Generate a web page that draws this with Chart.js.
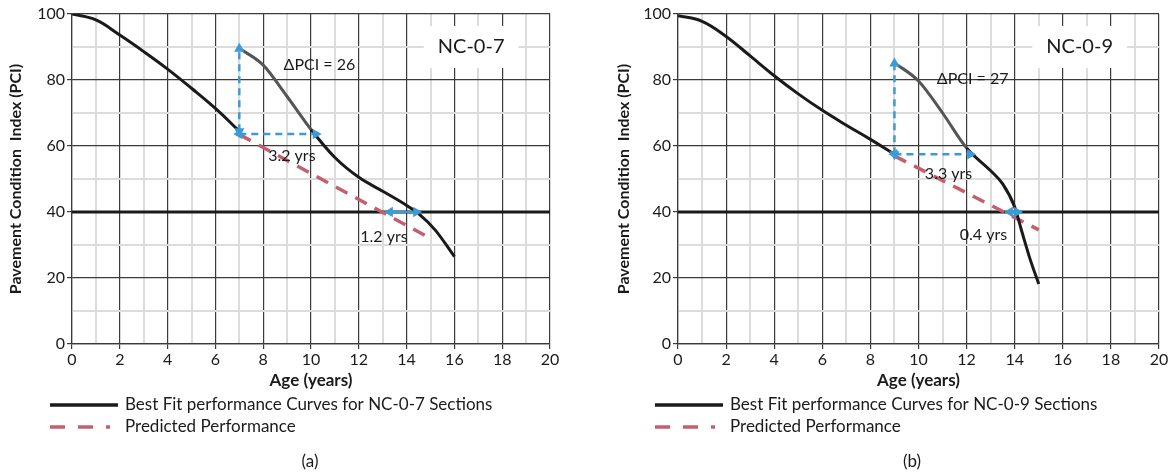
<!DOCTYPE html>
<html lang="en">
<head>
  <meta charset="UTF-8" />
  <title>PCI Performance Curves</title>
  <script src="https://cdn.jsdelivr.net/npm/chart.js"></script>
  <style>
    body { margin: 0; background: #fff; }
    .wrap { position: relative; width: 1173px; height: 475px; }
    .panel { position: absolute; top: 0; height: 475px; }
    #panelA { left: 0; width: 586px; }
    #panelB { left: 586px; width: 587px; }
  </style>
</head>
<body>
  <div class="wrap">
    <div class="panel" id="panelA"><canvas id="chartA"></canvas></div>
    <div class="panel" id="panelB"><canvas id="chartB"></canvas></div>
  </div>

  <script>
    // ---- panel (a) NC-0-7 ----
    const fit7Age = [0, 1, 2, 3, 4, 5, 6, 7];
    const fit7Pci = [100, 98.2, 93.6, 88.6, 83.3, 77.5, 71.4, 64.5];
    const rehab7Age = [7, 8, 9, 10, 11, 12, 13, 14, 14.5, 15.2, 16];
    const rehab7Pci = [89.6, 84.5, 75, 65, 56.5, 50.5, 46.3, 42, 39.5, 34.5, 26.5];
    const pred7Age = [7, 15];
    const pred7Pci = [63.5, 32];
    const jump7 = [[7, 64.5], [7, 89.5]];      // delta PCI arrow
    const gain7 = [[7, 63.6], [10.2, 63.6]];   // years gained arrow
    const end7 = [[13.3, 40], [14.4, 40]];     // extension at PCI 40

    // ---- panel (b) NC-0-9 ----
    const fit9Age = [0, 1, 2, 3, 4, 5, 6, 7, 8, 9];
    const fit9Pci = [99.5, 97.8, 93.2, 87.3, 81.3, 75.8, 70.8, 66.3, 62, 57.5];
    const rehab9Age = [9, 10, 11, 12, 13, 13.5, 14, 14.3, 14.65, 15];
    const rehab9Pci = [85.2, 79.7, 70, 59.4, 52.5, 48.5, 41.5, 34, 25.5, 18.2];
    const pred9Age = [9, 15];
    const pred9Pci = [57, 34.6];
    const jump9 = [[9, 57.5], [9, 85]];
    const gain9 = [[9, 57.5], [12.15, 57.5]];
    const end9 = [[13.8, 40], [14.1, 40]];

    const threshold = 40;
    const ageRange = [0, 20];

    const FONT = 'Lato, "Open Sans", sans-serif';
    const INK = '#1a1a1a';
    const BLUE = '#3d9ad6';
    const RED = '#c4606e';

    const toXY = (xs, ys) => xs.map((v, i) => ({ x: v, y: ys[i] }));
    const pairXY = (p) => p.map(([a, b]) => ({ x: a, y: b }));

    // notes, legend and caption drawn on the canvas
    const notesPlugin = {
      id: 'notes',
      beforeDatasetsDraw(chart, args, opts) {
        const { ctx, scales: { x, y } } = chart;
        (opts.boxes || []).forEach(b => {
          ctx.save();
          ctx.font = b.size + 'px ' + FONT;
          const w = ctx.measureText(b.text).width + 28;
          const h = b.size + 22;
          ctx.fillStyle = '#fff';
          ctx.fillRect(x.getPixelForValue(b.x) - w / 2, y.getPixelForValue(b.y) - h / 2, w, h);
          ctx.restore();
        });
      },
      afterDraw(chart, args, opts) {
        const { ctx, scales: { x, y } } = chart;
        ctx.save();
        ctx.fillStyle = INK;
        ctx.textAlign = 'center';
        ctx.textBaseline = 'middle';
        [...(opts.boxes || []), ...(opts.labels || [])].forEach(l => {
          ctx.font = l.size + 'px ' + FONT;
          ctx.fillText(l.text, x.getPixelForValue(l.x), y.getPixelForValue(l.y));
        });

        // legend
        const items = chart.data.datasets.filter(d => d.inLegend);
        ctx.textAlign = 'left';
        ctx.font = '17px ' + FONT;
        items.forEach((d, i) => {
          const ly = opts.legendY + i * 22;
          ctx.save();
          ctx.strokeStyle = d.borderColor;
          ctx.lineWidth = 3.5;
          ctx.setLineDash(d.legendDash || []);
          ctx.beginPath();
          ctx.moveTo(opts.legendX, ly);
          ctx.lineTo(opts.legendX + (d.legendLen || 68), ly);
          ctx.stroke();
          ctx.restore();
          ctx.fillText(d.label, opts.legendX + 75, ly);
        });

        // caption
        ctx.textAlign = 'center';
        ctx.font = '17px ' + FONT;
        ctx.fillText(opts.caption, opts.captionX, 462);
        ctx.restore();
      }
    };

    function arrowSet(pts, dashed) {
      const a = pts[0], b = pts[1];
      const vertical = a[0] === b[0];
      return {
        data: pairXY(pts),
        borderColor: BLUE,
        backgroundColor: BLUE,
        borderWidth: 2.5,
        borderDash: dashed ? [7, 5] : [],
        pointStyle: 'triangle',
        pointRadius: 6,
        pointBorderWidth: 0,
        pointRotation: vertical ? [180, 0] : [270, 90],
        pointBackgroundColor: BLUE
      };
    }

    function buildChart(id, p) {
      const datasets = [
        arrowSet(p.jump, true),
        arrowSet(p.gain, true),
        arrowSet(p.end, false),
        {
          label: p.fitLabel,
          inLegend: true,
          data: toXY(p.fitAge, p.fitPci),
          borderColor: INK,
          borderWidth: 3,
          pointRadius: 0,
          tension: 0.4
        },
        {
          data: toXY(p.rehabAge, p.rehabPci),
          borderColor: INK,
          borderWidth: 3,
          pointRadius: 0,
          cubicInterpolationMode: 'monotone',
          segment: {
            borderColor: c => c.p0.parsed.x < p.grayUntil ? '#555' : INK
          }
        },
        {
          label: 'Predicted Performance',
          inLegend: true,
          data: toXY(p.predAge, p.predPci),
          borderColor: RED,
          borderWidth: 3.5,
          borderDash: [13, 9],
          legendDash: [15, 13],
          legendLen: 60,
          pointRadius: 0
        },
        {
          data: toXY(ageRange, [threshold, threshold]),
          borderColor: INK,
          borderWidth: 3,
          pointRadius: 0
        }
      ];

      const gridColor = (major) => (c) => (c.tick && c.tick.value % major === 0) ? '#3a3a3a' : '#dcdcdc';
      const gridWidth = (major) => (c) => (c.tick && c.tick.value % major === 0) ? 1.2 : 2;
      const tickColor = (major) => (c) => (c.tick && c.tick.value % major === 0) ? '#3a3a3a' : 'rgba(0,0,0,0)';

      return new Chart(document.getElementById(id), {
        type: 'line',
        data: { datasets },
        options: {
          responsive: true,
          maintainAspectRatio: false,
          animation: false,
          events: [],
          layout: { padding: { left: p.padLeft, right: p.padRight, top: 14, bottom: 81 } },
          plugins: {
            legend: { display: false },
            tooltip: { enabled: false },
            notes: {
              labels: p.labels,
              boxes: p.boxes,
              legendX: p.legendX,
              legendY: 405,
              caption: p.caption,
              captionX: p.captionX
            }
          },
          scales: {
            x: {
              type: 'linear',
              min: 0, max: 20,
              afterFit: s => { s.height = 50; },
              ticks: {
                stepSize: 1, autoSkip: false, maxRotation: 0,
                color: INK, font: { family: FONT, size: 16 }, padding: 1,
                callback: v => v % 2 === 0 ? v : ''
              },
              grid: { color: gridColor(2), lineWidth: gridWidth(2), tickColor: tickColor(2), tickLength: 5 },
              border: { color: '#3a3a3a', width: 1.2 },
              title: {
                display: true, text: 'Age (years)', color: INK,
                font: { family: FONT, size: 17, weight: 'bold' }, padding: { top: 2, bottom: 3 }
              }
            },
            y: {
              min: 0, max: 100,
              afterFit: s => { s.width = p.yWidth; },
              ticks: {
                stepSize: 10, autoSkip: false,
                color: INK, font: { family: FONT, size: 16 }, padding: 2,
                callback: v => v % 20 === 0 ? v : ''
              },
              grid: { color: gridColor(20), lineWidth: gridWidth(20), tickColor: tickColor(20), tickLength: 5 },
              border: { color: '#3a3a3a', width: 1.2 },
              title: {
                display: true, text: 'Pavement Condition  Index (PCI)', color: INK,
                font: { family: FONT, size: 16, weight: 'bold' }, padding: { top: 2, bottom: 4 }
              }
            }
          }
        },
        plugins: [notesPlugin]
      });
    }

    buildChart('chartA', {
      fitAge: fit7Age, fitPci: fit7Pci,
      rehabAge: rehab7Age, rehabPci: rehab7Pci,
      predAge: pred7Age, predPci: pred7Pci,
      jump: jump7, gain: gain7, end: end7,
      grayUntil: 10,
      fitLabel: 'Best Fit performance Curves for NC-0-7 Sections',
      labels: [
        { text: '\u0394PCI = 26', x: 10.35, y: 84.5, size: 16 },
        { text: '3.2 yrs', x: 9.2, y: 57, size: 16 },
        { text: '1.2 yrs', x: 13.05, y: 32.4, size: 16 }
      ],
      boxes: [{ text: 'NC-0-7', x: 16.7, y: 90, size: 20 }],
      padLeft: 4, padRight: 36, yWidth: 68,
      legendX: 50, caption: '(a)', captionX: 310
    });

    buildChart('chartB', {
      fitAge: fit9Age, fitPci: fit9Pci,
      rehabAge: rehab9Age, rehabPci: rehab9Pci,
      predAge: pred9Age, predPci: pred9Pci,
      jump: jump9, gain: gain9, end: end9,
      grayUntil: 12,
      fitLabel: 'Best Fit performance Curves for NC-0-9 Sections',
      labels: [
        { text: '\u0394PCI = 27', x: 12.25, y: 80.5, size: 16 },
        { text: '3.3 yrs', x: 11.25, y: 51.5, size: 16 },
        { text: '0.4 yrs', x: 12.7, y: 33, size: 16 }
      ],
      boxes: [{ text: 'NC-0-9', x: 16.7, y: 90, size: 20 }],
      padLeft: 26, padRight: 14, yWidth: 66,
      legendX: 69, caption: '(b)', captionX: 326
    });
  </script>
</body>
</html>
